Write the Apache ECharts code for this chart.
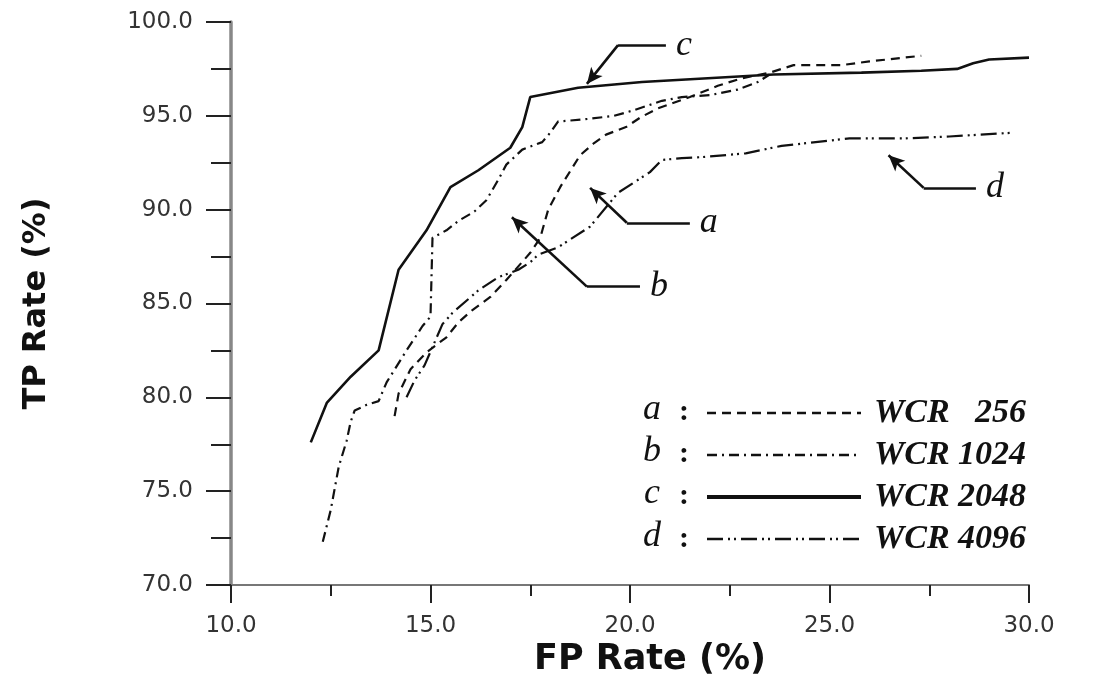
<!DOCTYPE html>
<html>
<head>
<meta charset="utf-8">
<script src="https://cdn.jsdelivr.net/npm/echarts@6/dist/echarts.min.js"></script>
<style>
  html, body { margin: 0; padding: 0; background: #fff; }
  #chart { width: 1095px; height: 688px; }
</style>
</head>
<body>
<div id="chart"></div>
<script>
// curve data, [FP rate, TP rate]
var wcr256 = [[14.1,79.0],[14.2,80.2],[14.5,81.5],[14.9,82.4],[15.4,83.2],[15.7,84.0],[16.05,84.65],[16.5,85.35],[16.9,86.25],[17.5,87.7],[17.75,88.5],[17.95,90.0],[18.25,91.2],[18.75,92.9],[19.1,93.55],[19.4,94.0],[19.9,94.4],[20.25,94.9],[20.7,95.4],[21.5,96.0],[22.2,96.6],[22.8,97.0],[23.5,97.3],[24.1,97.7],[25.3,97.7],[26.0,97.9],[27.3,98.2]];
var wcr1024 = [[12.3,72.3],[12.5,74.0],[12.7,76.3],[12.9,77.7],[13.0,78.7],[13.1,79.3],[13.4,79.6],[13.7,79.8],[13.9,80.8],[14.4,82.5],[14.8,83.8],[15.0,84.3],[15.05,88.5],[15.4,88.9],[15.7,89.4],[16.1,89.9],[16.4,90.5],[16.7,91.6],[16.9,92.4],[17.3,93.2],[17.8,93.6],[18.0,94.1],[18.2,94.7],[18.8,94.8],[19.6,95.0],[20.1,95.3],[20.8,95.8],[21.3,96.0],[22.0,96.1],[22.7,96.4],[23.2,96.8],[23.5,97.2]];
var wcr2048 = [[12.0,77.6],[12.4,79.7],[13.0,81.1],[13.7,82.5],[14.2,86.8],[14.9,88.9],[15.5,91.2],[16.2,92.1],[17.0,93.3],[17.3,94.4],[17.5,96.0],[18.7,96.5],[20.3,96.8],[23.6,97.2],[25.8,97.3],[27.3,97.4],[28.2,97.5],[28.6,97.8],[29.0,98.0],[30.0,98.1]];
var wcr4096 = [[14.4,80.0],[14.6,80.9],[14.85,81.7],[15.3,83.9],[15.55,84.5],[16.2,85.7],[16.7,86.4],[17.2,86.8],[17.5,87.2],[17.7,87.6],[18.2,88.0],[19.0,89.1],[19.7,90.9],[20.5,92.0],[20.8,92.65],[21.3,92.75],[21.8,92.8],[22.9,93.0],[23.8,93.4],[25.5,93.8],[26.9,93.8],[28.0,93.9],[29.6,94.1]];

var seriesNames = ['WCR   256', 'WCR 1024', 'WCR 2048', 'WCR 4096'];
var curveKeys = ['a', 'b', 'c', 'd'];

// callouts: arrow tip, elbow, end of the leader (data coords)
var tipPts = [[19.0,91.16],[17.04,89.6],[18.92,96.7],[26.48,92.9]];
var elbowPts = [[19.92,89.3],[18.92,85.9],[19.7,98.77],[27.36,91.16]];
var endPts = [[21.5,89.3],[20.25,85.9],[20.9,98.77],[28.67,91.16]];

var dashes = [[9,6],[10,5,2,5],'solid',[16,5,2,4,2,5]];
var widths = [2.2, 2.2, 2.6, 2.2];

var ink = '#111';
var chart = echarts.init(document.getElementById('chart'));

function callout(i){
  return {
    silent: true,
    animation: false,
    symbol: ['none','none'],
    lineStyle: { color: ink, width: 2.6, type: 'solid' },
    label: { show: false },
    data: [
      [{ coord: elbowPts[i], symbol: 'none' }, { coord: tipPts[i], symbol: 'arrow', symbolSize: [11, 16] }],
      [{ coord: elbowPts[i], symbol: 'none' }, { coord: endPts[i], symbol: 'none',
        label: { show: true, position: 'end', distance: 10, formatter: curveKeys[i],
          fontFamily: 'Liberation Serif', fontStyle: 'italic', fontSize: 36, color: ink } }]
    ]
  };
}

var allData = [wcr256, wcr1024, wcr2048, wcr4096];
var series = allData.map(function(d, i){
  return {
    name: seriesNames[i],
    type: 'line',
    data: d,
    symbol: 'none',
    animation: false,
    lineStyle: { color: ink, width: widths[i], type: dashes[i] },
    itemStyle: { color: ink },
    markLine: callout(i)
  };
});

var rowY = [410, 452, 494, 537];
var prefixes = [];
rowY.forEach(function(y, i){
  prefixes.push({ type: 'text', x: 652, y: y, silent: true,
    style: { text: curveKeys[i], font: 'italic 36px "Liberation Serif"', fill: ink, align: 'center', verticalAlign: 'middle' } });
  prefixes.push({ type: 'text', x: 684, y: y + 2, silent: true,
    style: { text: ':', font: 'bold 30px "Liberation Serif"', fill: ink, align: 'center', verticalAlign: 'middle' } });
});

chart.setOption({
  backgroundColor: '#fff',
  animation: false,
  grid: { left: 231, right: 66, top: 22, bottom: 103 },
  legend: {
    orient: 'vertical',
    left: 700,
    top: 391,
    itemWidth: 154,
    itemHeight: 24,
    itemGap: 8,
    selectedMode: false,
    itemStyle: { opacity: 0 },
    data: seriesNames.map(function(n, i){
      return { name: n, itemStyle: { opacity: 0 }, lineStyle: { width: i === 2 ? 4 : 2.4 } };
    }),
    textStyle: { fontFamily: 'Liberation Serif', fontStyle: 'italic', fontWeight: 'bold', fontSize: 34, color: ink, padding: [0, 0, 0, 8] }
  },
  xAxis: {
    type: 'value',
    min: 10, max: 30, interval: 5,
    name: 'FP Rate (%)',
    nameLocation: 'middle',
    nameGap: 54,
    nameTextStyle: { fontFamily: 'DejaVu Sans', fontWeight: 'bold', fontSize: 35, color: ink, padding: [0, 0, 0, 40] },
    axisLine: { show: true, onZero: false, lineStyle: { color: '#777', width: 2 } },
    axisTick: { show: true, length: 18, lineStyle: { color: '#222', width: 2 } },
    minorTick: { show: true, splitNumber: 2, length: 11, lineStyle: { color: '#222', width: 2 } },
    axisLabel: { margin: 30, fontFamily: 'DejaVu Sans', fontSize: 23, color: '#333',
      formatter: function(v){ return v.toFixed(1); } },
    splitLine: { show: false }
  },
  yAxis: {
    type: 'value',
    min: 70, max: 100, interval: 5,
    name: 'TP Rate (%)',
    nameLocation: 'middle',
    nameGap: 178,
    nameTextStyle: { fontFamily: 'DejaVu Sans', fontWeight: 'bold', fontSize: 32, color: ink },
    axisLine: { show: true, onZero: false, lineStyle: { color: '#888', width: 3.5 } },
    axisTick: { show: true, length: 25, lineStyle: { color: '#222', width: 2 } },
    minorTick: { show: true, splitNumber: 2, length: 20, lineStyle: { color: '#222', width: 2 } },
    axisLabel: { margin: 38, fontFamily: 'DejaVu Sans', fontSize: 23, color: '#333',
      formatter: function(v){ return v.toFixed(1); } },
    splitLine: { show: false }
  },
  graphic: prefixes,
  series: series
});
</script>
</body>
</html>
